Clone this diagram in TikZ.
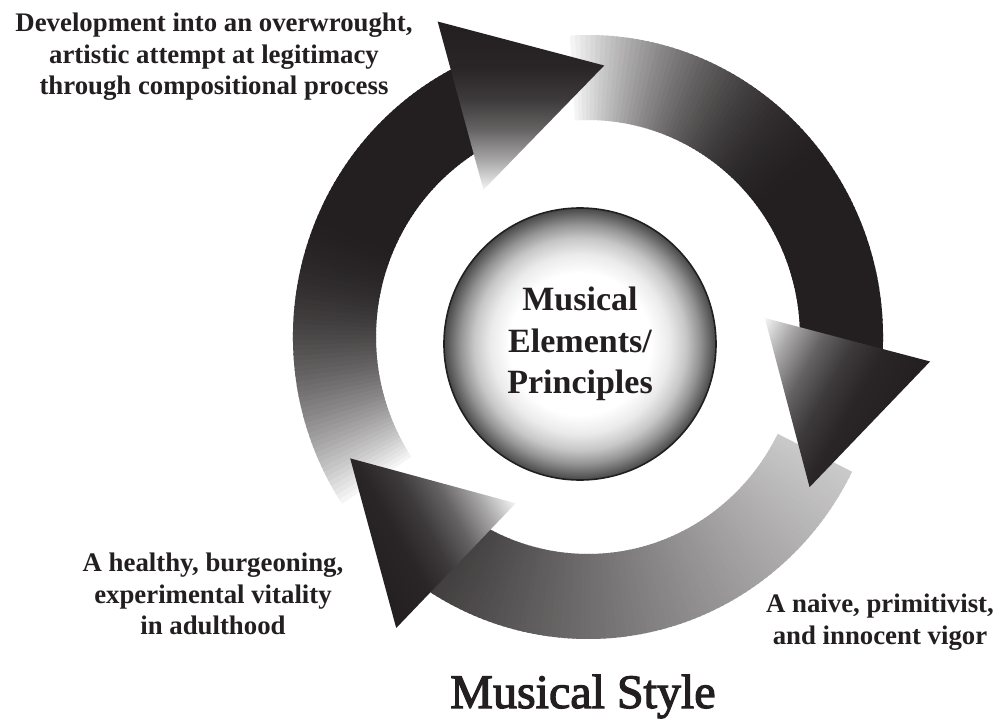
\documentclass[tikz,border=0pt]{standalone}
\usepackage{fontspec}
\setmainfont{Liberation Serif}
\newfontfamily\headingfont{Liberation Serif}[FakeBold=2.5]
\definecolor{ink}{RGB}{35,31,32}
\pgfdeclareverticalshading{headfade}{100bp}{color(0bp)=(white); color(25bp)=(black!4); color(34bp)=(ink!40!white); color(43bp)=(ink!70!white); color(52bp)=(ink!88!white); color(61bp)=(ink!97!white); color(75bp)=(ink); color(100bp)=(ink)}
\pgfdeclareradialshading{ballfade}{\pgfpoint{0bp}{0bp}}{color(0bp)=(white); color(13bp)=(white); color(16.5bp)=(black!8); color(19.5bp)=(black!22); color(22bp)=(black!42); color(24bp)=(black!62); color(25bp)=(black!72); color(50bp)=(black!72)}

\begin{document}
\begin{tikzpicture}[x=0.5pt, y=0.5pt,
  stage/.style={text=ink, align=center, font=\fontsize{13.4}{15.75}\selectfont\bfseries},
  core/.style={circle, draw=ink, line width=0.8pt, shade, shading=ballfade, minimum size=136pt, inner sep=0pt, text=ink, align=center, font=\fontsize{17}{20.75}\selectfont\bfseries},
  heading/.style={text=ink, font=\fontsize{24}{28}\selectfont\headingfont}]
  \path[use as bounding box, fill=white] (-588,-382) rectangle (410,337);

  \begin{scope}[transform canvas={xscale=0.977}]
    \foreach \k/\pz/\po/\kn/\ex in {0/5/100/0.6/2, 1/24/88/1/1, 2/5/100/0.6/2} {
      \foreach \i in {0,...,98} {
        \pgfmathsetmacro\sa{93.5-120*\k-\i}
        \pgfmathsetmacro\sb{\sa-1.4}
        \pgfmathsetmacro\dk{\pz+(\po-\pz)*(1-(1-min(\i/(98*\kn),0.999))^\ex)}
        \fill[ink!\dk!white] (\sa:302) arc[start angle=\sa, end angle=\sb, radius=302] -- (\sb:217) arc[start angle=\sb, end angle=\sa, radius=217] -- cycle;
      }
    }
    \foreach \k in {0,1,2} {
      \begin{scope}[transform canvas={rotate=-120*\k}]
        \shade[shading=headfade] (116:351) -- (86.5:272) -- (126:182) -- cycle;
      \end{scope}
    }
  \end{scope}

  \node[core] (elements) at (-8,-7) {Musical\\Elements/\\Principles};
  \node[stage] (overwrought) at (-374,280) {Development into an overwrought,\\artistic attempt at legitimacy\\through compositional process};
  \node[stage] (adulthood) at (-375,-257) {A healthy, burgeoning,\\experimental vitality\\in adulthood};
  \node[stage] (naive) at (292,-285) {A naive, primitivist,\\and innocent vigor};
  \node[heading, anchor=base] (style) at (-5,-371) {Musical Style};
\end{tikzpicture}
\end{document}
